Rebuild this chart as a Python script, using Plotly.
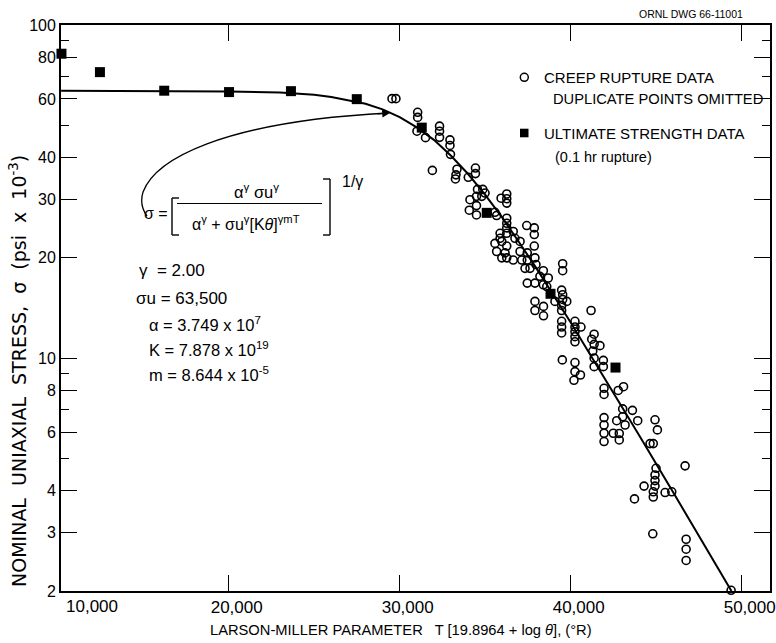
import plotly.graph_objects as go

# ---------------- data ----------------
creep_P = [29550, 29780, 31050, 31050, 31010, 31510, 32330, 32330, 32330, 32940, 32940, 32970,
           31910, 33350, 33290, 33260, 34010, 34430, 34430, 34550, 34860, 34110, 34490, 34490,
           34070, 34490, 34800, 34990, 35570, 35670, 35930, 36260, 36260, 36260, 36260, 36260,
           36260, 36260, 37430, 37870, 37870, 35870, 35870, 36640, 36740, 35570, 35970, 36260,
           37040, 37870, 35670, 36160, 37040, 37460, 35970, 36260, 36640, 37140, 37460, 37910,
           37330, 37620, 37970, 38400, 38200, 38690, 39530, 39530, 37460, 37910, 38400, 38600,
           39470, 39530, 39530, 39770, 39470, 39470, 39080, 37910, 37910, 38410, 38410, 41190,
           39470, 39470, 39470, 40250, 40250, 40250, 40250, 40250, 40600, 41370, 41230, 41370,
           41710, 41290, 41370, 41910, 41370, 41910, 39510, 40250, 40250, 40570, 40190, 41950,
           41950, 42780, 43090, 43040, 43610, 43040, 42690, 43180, 43920, 41950, 41950, 41950,
           41950, 42490, 42840, 42840, 44930, 45070, 44640, 44830, 44990, 44930, 44930, 44930,
           44830, 44830, 44290, 45520, 45910, 46690, 43730, 44800, 46750, 46750, 46750, 49380]
creep_sigma = [60.1, 60.1, 54.7, 52.8, 48.0, 45.9, 49.7, 48.0, 46.0, 45.2, 43.5, 40.9,
               36.6, 36.9, 35.5, 34.5, 34.9, 37.2, 35.8, 32.1, 32.1, 29.9, 30.6, 28.7,
               27.8, 26.9, 30.6, 31.3, 27.4, 26.8, 30.2, 31.1, 30.1, 29.2, 26.3, 25.4,
               24.6, 23.7, 25.0, 24.6, 23.5, 23.7, 22.9, 24.0, 22.9, 22.1, 22.4, 21.7,
               22.4, 21.7, 20.9, 20.7, 20.9, 20.7, 20.0, 20.0, 19.7, 19.7, 19.7, 20.0,
               18.6, 18.6, 19.1, 18.3, 17.6, 17.4, 19.2, 18.3, 16.8, 16.8, 16.6, 16.4,
               16.0, 15.5, 15.0, 14.8, 14.4, 13.9, 14.8, 14.8, 13.9, 14.3, 13.4, 13.9,
               12.9, 12.4, 11.9, 12.9, 12.4, 12.0, 11.6, 11.2, 12.4, 11.8, 11.4, 11.0,
               10.9, 10.5, 10.0, 9.85, 9.43, 9.43, 9.88, 9.7, 9.11, 8.90, 8.58, 8.12,
               7.78, 8.0, 8.21, 7.04, 6.97, 6.67, 6.49, 6.30, 6.49, 6.63, 6.30, 5.95,
               5.62, 5.95, 5.94, 5.68, 6.53, 6.09, 5.54, 5.54, 4.67, 4.46, 4.29, 4.13,
               3.97, 3.83, 4.13, 3.95, 3.97, 4.75, 3.78, 2.97, 2.86, 2.67, 2.47, 2.01]

ult_P = [10220, 12470, 16230, 20020, 23640, 27490, 31290, 35090, 38820, 42620]
ult_sigma = [82.0, 72.2, 63.5, 62.9, 63.3, 59.9, 49.2, 27.3, 15.6, 9.37]

fit_P = [10200, 15000, 20000, 23000, 25000, 26000, 27500, 28000, 29000, 30000, 31000, 32000,
         33000, 34000, 35000, 36000, 37000, 38000, 40000, 42000, 44000, 46000, 48000, 49400]
fit_sigma = [63.5, 63.4, 63.2, 62.7, 61.7, 60.8, 58.9, 58.0, 55.8, 52.9, 49.3, 45.2,
             40.5, 35.7, 30.9, 26.4, 22.2, 18.6, 12.8, 8.7, 5.87, 3.95, 2.66, 2.0]

y_ticks = [2, 3, 4, 6, 8, 10, 20, 30, 40, 60, 80, 100]
y_minor = [5, 7, 9, 50, 70, 90]
x_ticks = [20000, 30000, 40000, 50000]
x_ticktext = ["20,000", "30,000", "40,000", "50,000"]

# ---------------- layout helpers ----------------
W, H = 776, 643
L, R, T, B = 61, 770, 25, 591
FONT = "Liberation Sans, Arial, sans-serif"
WIDE = "DejaVu Sans, Liberation Sans, sans-serif"
SP = "\u00a0"


def px(x):
    return (x - L) / (R - L)


def py(y):
    return (B - y) / (B - T)


fig = go.Figure()

fig.add_trace(go.Scatter(x=fit_P, y=fit_sigma, mode="lines",
                         line=dict(color="black", width=2), hoverinfo="skip",
                         showlegend=False))
fig.add_trace(go.Scatter(x=creep_P, y=creep_sigma, mode="markers",
                         marker=dict(symbol="circle-open", size=8, color="black",
                                     line=dict(width=1.6, color="black")),
                         cliponaxis=False, showlegend=False))
fig.add_trace(go.Scatter(x=ult_P, y=ult_sigma, mode="markers",
                         marker=dict(symbol="square", size=10, color="black"),
                         cliponaxis=False, showlegend=False))

ann = []


def text(x, y, s, size=15, xanchor="left", yanchor="middle", angle=0, family=FONT):
    ann.append(dict(x=px(x), y=py(y), xref="paper", yref="paper", text=s,
                    showarrow=False, xanchor=xanchor, yanchor=yanchor,
                    textangle=angle, font=dict(family=family, size=size, color="black")))


# axis titles & labels
text(401, 630, "LARSON-MILLER PARAMETER   T [19.8964 + log <i>θ</i>], (°R)", 14.7, "center")
ytitle = (SP * 2).join(["NOMINAL", "UNIAXIAL", "STRESS,", "σ", "(psi", "x",
                        "10<sup>-3</sup>)"])
text(18, 371, ytitle, 19, "center", angle=-90, family=WIDE)
text(64, 606, "10,000", 17, "left")
text(745, 14, "ORNL DWG 66-11001", 10.5, "right")

# legend
text(542, 77, "CREEP RUPTURE DATA", 15)
text(551, 99, "DUPLICATE POINTS OMITTED", 14.7)
text(542, 133, "ULTIMATE STRENGTH DATA", 15)
text(553, 157, "(0.1 hr rupture)", 14.5)

# formula
text(156, 213, "σ =", 16, "center")
text(256, 191, "α<sup>γ</sup> σu<sup>γ</sup>", 16.5, "center")
text(246, 223, "α<sup>γ</sup> + σu<sup>γ</sup>[K<i>θ</i>]<sup>γmT</sup>", 16, "center")
text(352, 182, "1/γ", 16, "center")

# parameters
text(137, 270, "γ  = 2.00", 17)
text(134, 298, "σu = 63,500", 17)
text(147, 324, "α = 3.749 x 10<sup>7</sup>", 16.5)
text(147, 349, "K = 7.878 x 10<sup>19</sup>", 16.5)
text(147, 374, "m = 8.644 x 10<sup>-5</sup>", 16.5)

# arrowhead on the curved pointer
ann.append(dict(x=px(390), y=py(113), xref="paper", yref="paper", text="",
                showarrow=True, arrowhead=2, arrowsize=1.2, arrowwidth=1.3,
                arrowcolor="black", ax=-14, ay=1))

shapes = []


def line(x0, y0, x1, y1, w=1.4):
    shapes.append(dict(type="line", xref="paper", yref="paper",
                       x0=px(x0), y0=py(y0), x1=px(x1), y1=py(y1),
                       line=dict(color="black", width=w)))


# brackets & fraction bar
line(172, 198, 172, 235)
line(172, 198, 179, 198)
line(172, 235, 179, 235)
line(330, 179, 330, 235)
line(323, 179, 330, 179)
line(323, 235, 330, 235)
line(177, 203.5, 322, 203.5, 1.2)

# curved pointer
path = "M {:.4f},{:.4f} Q {:.4f},{:.4f} {:.4f},{:.4f} C {:.4f},{:.4f} {:.4f},{:.4f} {:.4f},{:.4f}".format(
    px(147), py(216), px(139), py(205), px(143), py(192),
    px(155), py(160), px(220), py(122), px(388), py(113))
shapes.append(dict(type="path", xref="paper", yref="paper", path=path,
                   line=dict(color="black", width=1.3)))

# legend symbols
shapes.append(dict(type="circle", xref="paper", yref="paper",
                   x0=px(520.3), x1=px(528.3), y0=py(73.3), y1=py(81.3),
                   line=dict(color="black", width=1.5)))
shapes.append(dict(type="rect", xref="paper", yref="paper",
                   x0=px(520), x1=px(528.5), y0=py(128.7), y1=py(137.3),
                   fillcolor="black", line=dict(color="black", width=0)))

fig.update_layout(
    width=W, height=H,
    margin=dict(l=L, r=W - R, t=T, b=H - B, pad=0, autoexpand=False),
    paper_bgcolor="white", plot_bgcolor="white",
    font=dict(family=FONT, size=15, color="black"),
    annotations=ann, shapes=shapes, showlegend=False,
    xaxis=dict(range=[10193, 51655], tickvals=x_ticks, ticktext=x_ticktext,
               ticks="inside", ticklen=16, tickwidth=1.3, tickcolor="black",
               showline=True, linecolor="black", linewidth=1.8, mirror="ticks",
               showgrid=False, zeroline=False, tickfont=dict(size=17),
               ticklabelshift=8, ticklabelstandoff=0, automargin=False,
               ticklabeloverflow="allow"),
    yaxis=dict(type="log", range=[0.30103, 2.0], tickvals=y_ticks,
               ticktext=[str(v) for v in y_ticks],
               ticks="inside", ticklen=16, tickwidth=1.3, tickcolor="black",
               showline=True, linecolor="black", linewidth=1.8, mirror="allticks",
               showgrid=False, zeroline=False, tickfont=dict(size=16), automargin=False,
               minor=dict(tickvals=y_minor, ticks="inside", ticklen=8,
                          tickwidth=1.2, tickcolor="black", showgrid=False)),
)

fig.write_html("out.html")
